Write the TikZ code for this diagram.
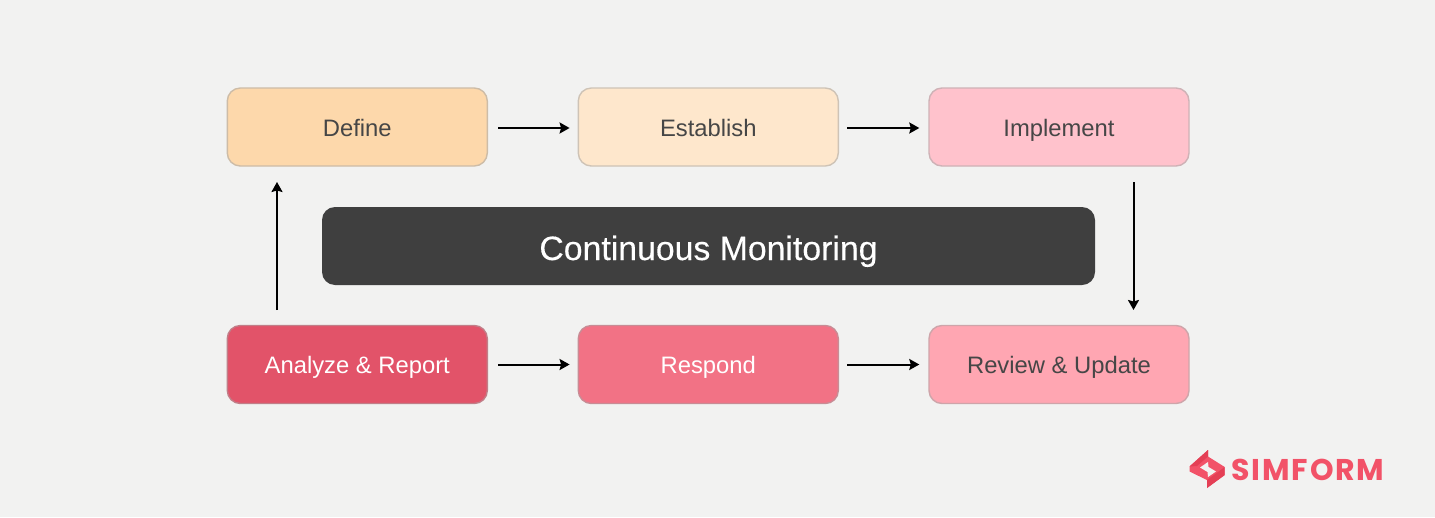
\documentclass[tikz,border=0pt]{standalone}
\usepackage{fontspec}
\setmainfont{Liberation Sans}
\newfontfamily\logofont[LetterSpace=6]{Poppins}
\newfontfamily\medfont[FakeBold=0.25]{Liberation Sans}
\usetikzlibrary{arrows.meta}
\definecolor{bgc}{HTML}{F2F2F1}
\definecolor{darktxt}{HTML}{464646}
\definecolor{cdefine}{HTML}{FDD8AB}
\definecolor{cestablish}{HTML}{FEE7CC}
\definecolor{cimplement}{HTML}{FFC2CC}
\definecolor{canalyze}{HTML}{E25369}
\definecolor{crespond}{HTML}{F27285}
\definecolor{creview}{HTML}{FFA6B2}
\definecolor{cmon}{HTML}{3F3F3F}
\definecolor{clogo}{HTML}{F25268}
\definecolor{clogod}{HTML}{E43F55}
\tikzset{
  stagebox/.style={draw=#1!55!gray!85!white, line width=1.4pt, fill=#1, rounded corners=13pt,
    minimum width=260pt, minimum height=78pt, inner sep=0pt, text height=23pt, text depth=5pt,
    font=\fontsize{23.8}{27}\selectfont, text=darktxt},
  flow/.style={draw=black, line width=2pt, -{Stealth[length=10pt,width=11pt,inset=1.5pt]}},
  hflow/.style={flow, shorten <=10pt, shorten >=8pt},
  hflowb/.style={flow, shorten <=8pt, shorten >=9pt}
}
\begin{document}
\begin{tikzpicture}[x=1pt,y=-1pt]
\fill[bgc] (0,0) rectangle (1435,517);
\useasboundingbox (0,0) rectangle (1435,517);
\node[stagebox=cdefine] (define) at (357.3,127) {Define};
\node[stagebox=cestablish] (establish) at (708.3,127) {Establish};
\node[stagebox=cimplement] (implement) at (1059,127) {Implement};
\node[stagebox=canalyze, text=white] (analyze) at (357.3,364.5) {Analyze \& Report};
\node[stagebox=crespond, text=white] (respond) at (708.3,364.5) {Respond};
\node[stagebox=creview] (review) at (1059,364.5) {Review \& Update};
\node[fill=cmon, rounded corners=13pt, minimum width=773pt, minimum height=78pt, inner sep=0pt,
  text height=32pt, text depth=4pt,
  text=white, font=\medfont\fontsize{33.8}{38}\selectfont] (monitor) at (708.5,246) {Continuous Monitoring};
\coordinate (downstart) at (1133.5,182);
\coordinate (downend) at (1133.5,310);
\coordinate (upstart) at (277,310);
\coordinate (upend) at (277,182);
\draw[hflow] ([yshift=-1pt]define.east) -- ([yshift=-1pt]establish.west);
\draw[hflowb] ([yshift=-1pt]establish.east) -- ([yshift=-1pt]implement.west);
\draw[flow] (downstart) -- (downend);
\draw[hflow] (analyze.east) -- (respond.west);
\draw[hflowb] (respond.east) -- (review.west);
\draw[flow] (upstart) -- (upend);
% logo mark
\fill[clogo] (1189.5,466.5) -- (1208,450) -- (1208,456.5) -- (1224.7,467) -- (1224.7,475) -- (1207,488) -- (1207,480) -- (1189.5,471.5) -- cycle;
\fill[clogod] (1189.5,466.5) -- (1208,450) -- (1208,456.5) -- (1197,466) -- cycle;
\fill[clogod] (1224.7,467) -- (1224.7,475) -- (1207,488) -- (1207,480) -- (1218,472) -- cycle;
\fill[bgc] (1200,467.5) -- (1208,462) -- (1208.5,467) -- (1216,471.5) -- (1208,477) -- (1207.5,472) -- cycle;
\node[anchor=west, inner sep=0pt, text=clogo, font=\logofont\bfseries\fontsize{30}{32}\selectfont] (logo) at (1231.5,470) {SIMFORM};
\end{tikzpicture}
\end{document}
